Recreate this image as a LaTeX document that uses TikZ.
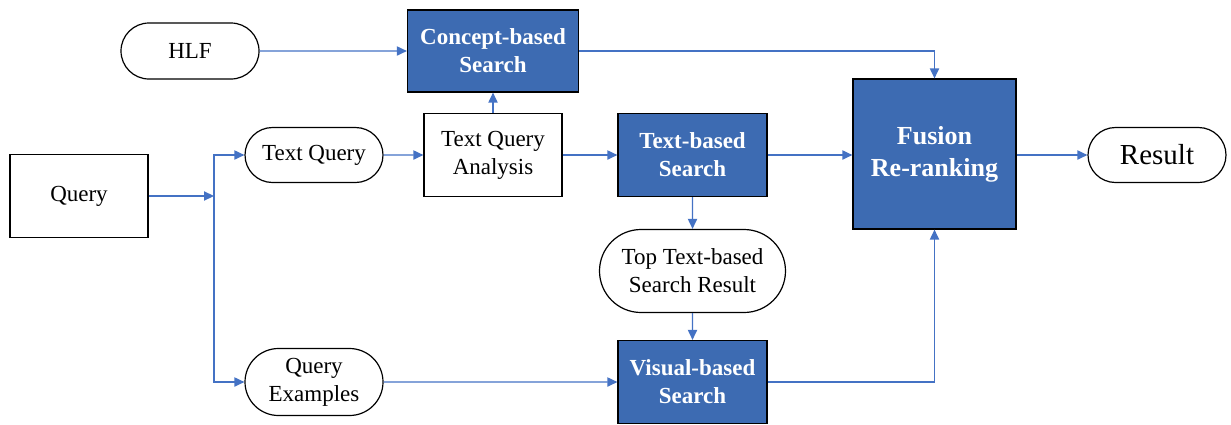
\documentclass[tikz,border=0pt]{standalone}
\usepackage{fontspec}
\setmainfont{Liberation Serif}
\usepackage{tikz}
\usetikzlibrary{arrows.meta,positioning,shapes.misc}
\definecolor{BoxBlue}{RGB}{61,107,178}
\definecolor{LineBlue}{RGB}{68,114,196}

\begin{document}
\begin{tikzpicture}[x=0.5pt, y=-0.5pt, >={Triangle[length=5pt,width=4.6pt]},
    plain/.style={draw, rectangle, line width=0.6pt, fill=white, align=center, font=\fontsize{11.5}{14}\selectfont, inner sep=0pt},
    pill/.style={draw, rounded rectangle, line width=0.6pt, fill=white, align=center, font=\fontsize{11.5}{14}\selectfont, inner sep=0pt},
    bluebox/.style={draw, rectangle, line width=0.6pt, fill=BoxBlue, text=white, align=center, font=\bfseries\fontsize{11.5}{14}\selectfont, inner sep=0pt},
    flow/.style={->, LineBlue, line width=0.65pt}]
    \useasboundingbox (0,0) rectangle (1231,424);

    \node [plain, minimum width=69pt, minimum height=41.5pt] (query) at (79,196) {Query};
    \node [pill, minimum width=69pt, minimum height=28pt] (hlf) at (190,51) {HLF};
    \node [pill, minimum width=69pt, minimum height=27.5pt] (tq) at (314,155) {Text Query};
    \node [pill, minimum width=69pt, minimum height=33.5pt] (qe) at (314,382) {Query\\Examples};
    \node [bluebox, minimum width=85.5pt, minimum height=41pt] (concept) at (493,51) {Concept-based\\Search};
    \node [plain, minimum width=69pt, minimum height=41.5pt] (tqa) at (493,155) {Text Query\\Analysis};
    \node [bluebox, minimum width=74.5pt, minimum height=41.5pt] (tb) at (692.5,155) {Text-based\\Search};
    \node [pill, minimum width=93pt, minimum height=41.5pt] (top) at (692.5,271) {Top Text-based\\Search Result};
    \node [bluebox, minimum width=74.5pt, minimum height=41.5pt] (vb) at (692.5,382) {Visual-based\\Search};
    \node [bluebox, minimum width=81.5pt, minimum height=75pt, font=\bfseries\fontsize{13}{16}\selectfont] (fusion) at (934.5,154) {Fusion\\Re-ranking};
    \node [pill, minimum width=69pt, minimum height=27.5pt, font=\fontsize{14.5}{17}\selectfont] (result) at (1157,155) {Result};
    \coordinate (split) at (214,196);

    \draw [flow] (query) -- (split);
    \draw [flow] (split) |- (tq);
    \draw [flow] (split) |- (qe);
    \draw [flow] (hlf) -- (concept);
    \draw [flow] (tq) -- (tqa);
    \draw [flow] (tqa) -- (concept);
    \draw [flow] (tqa) -- (tb);
    \draw [flow] (tb) -- (top);
    \draw [flow] (top) -- (vb);
    \draw [flow] (qe) -- (vb);
    \draw [flow] (concept) -| (fusion);
    \draw [flow] (tb) -- (tb -| fusion.west);
    \draw [flow] (vb) -| (fusion);
    \draw [flow] (fusion.east |- result) -- (result);
\end{tikzpicture}
\end{document}
